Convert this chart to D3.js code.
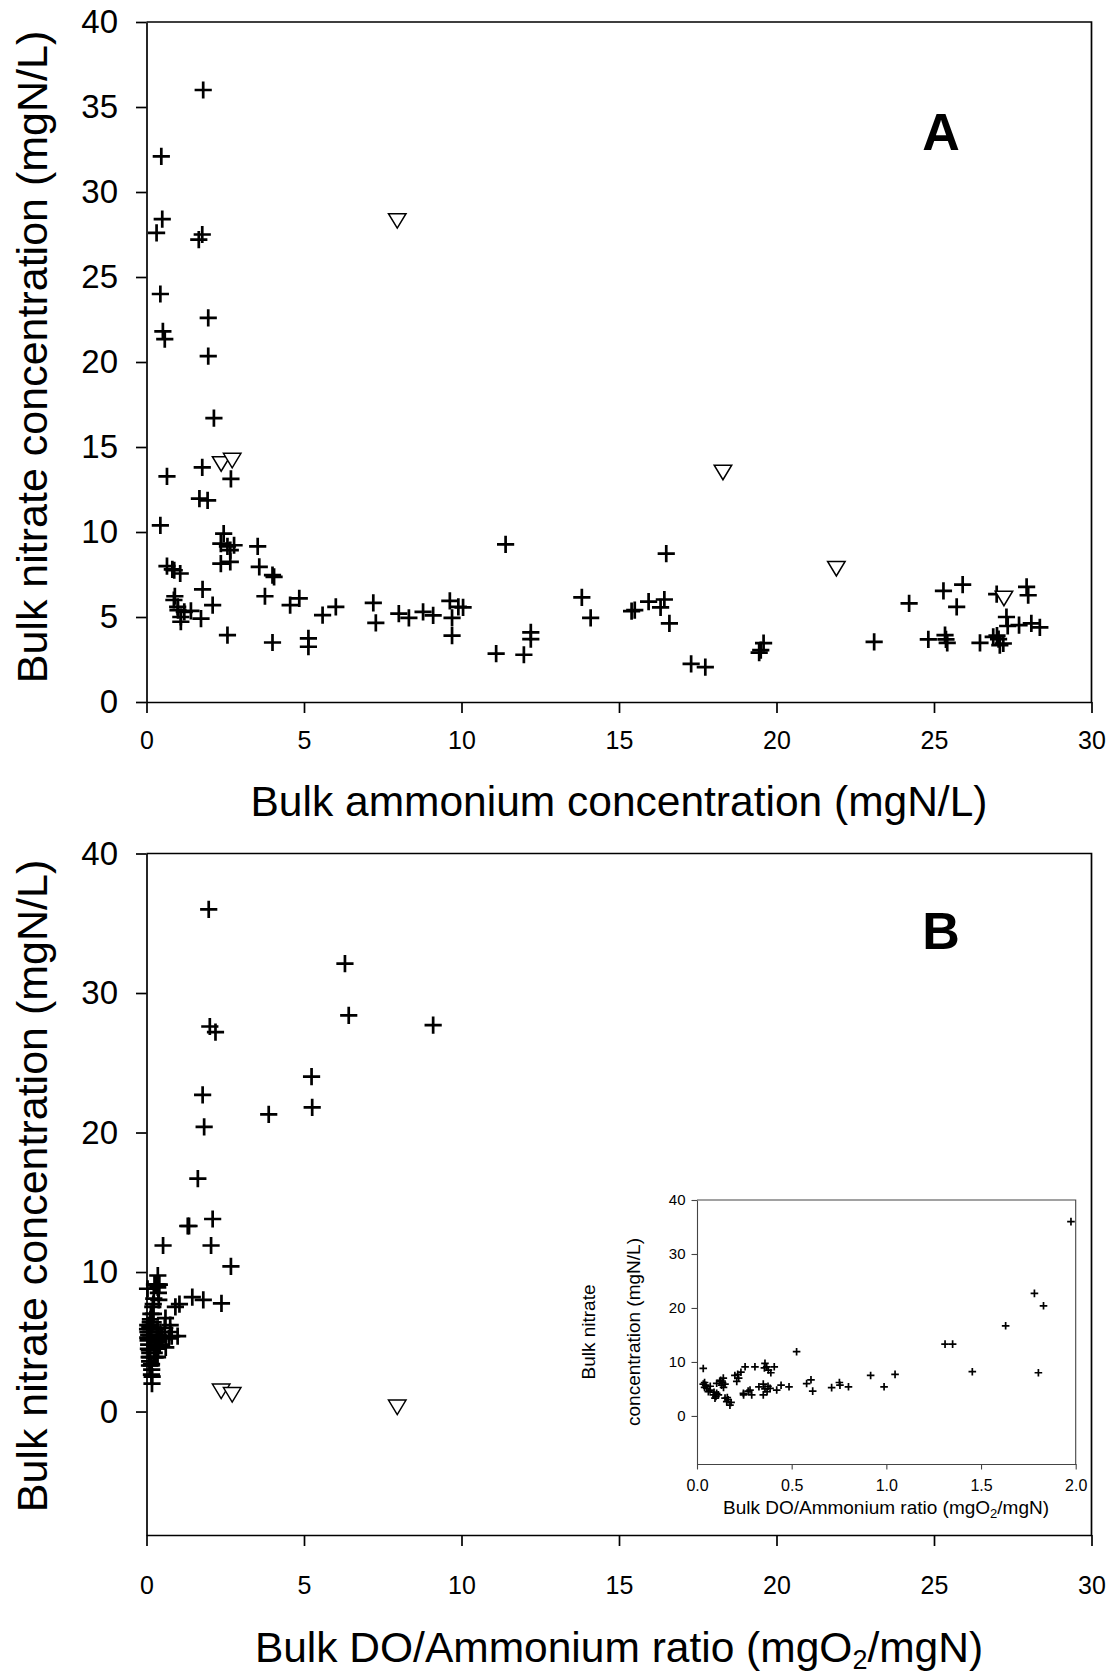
<!DOCTYPE html>
<html><head><meta charset="utf-8">
<script src="https://cdn.jsdelivr.net/npm/d3@7"></script>
<style>
body{margin:0;background:#fff}
svg{display:block}
text{font-family:Arial,"Liberation Sans",sans-serif;fill:#000}
</style>
</head><body>
<svg id="chart" width="1113" height="1678"></svg>
<script>
// ---------- DATA ----------
// Panel A: bulk ammonium (mgN/L) vs bulk nitrate (mgN/L), "+" markers
const ammoniumA = [1.8,0.47,0.5,0.32,1.66,1.77,0.44,0.52,0.58,1.96,1.96,2.14,1.77,2.68,0.65,1.68,1.94,0.44,2.45,2.36,2.57,2.78,2.66,3.53,2.36,2.66,3.58,4.0,4.05,3.76,0.65,0.88,1.07,0.82,0.9,1.78,2.1,0.99,1.41,1.0,1.09,1.09,1.73,2.57,4.0,4.56,4.85,5.59,6.01,5.14,5.14,7.2,7.28,8.01,8.33,8.78,9.1,9.63,9.9,9.7,9.7,10.05,11.4,11.1,11.98,12.2,12.2,16.5,13.82,14.1,15.4,15.5,15.94,16.44,16.32,16.6,17.29,17.74,19.5,19.45,19.59,23.1,24.21,25.3,25.91,25.72,24.82,25.35,25.38,25.42,26.46,26.88,27.0,27.05,27.09,27.2,26.99,27.3,27.34,27.7,28.09,28.36,27.94,27.99,1.2,0.87];
const nitrateA  = [36.0,32.1,28.4,27.6,27.2,27.5,24.0,21.8,21.35,22.6,20.35,16.7,13.8,13.13,13.27,11.96,11.86,10.39,9.9,9.32,9.16,9.22,8.93,9.16,8.14,8.24,7.95,7.46,7.36,6.22,7.99,7.75,7.56,7.8,6.22,6.62,5.7,5.6,5.36,5.4,5.0,4.72,4.91,3.93,3.5,5.7,6.09,5.11,5.6,3.74,3.25,5.83,4.66,5.2,4.95,5.3,5.1,5.95,5.6,4.95,3.9,5.57,9.27,2.84,2.78,4.1,3.7,8.73,6.16,4.95,5.35,5.4,5.9,6.03,5.57,4.62,2.24,2.05,3.05,2.9,3.46,3.54,5.8,6.54,6.91,5.6,3.68,3.93,3.68,3.48,3.48,3.83,3.9,3.7,3.35,3.44,6.34,5.0,4.47,4.52,4.62,4.39,6.77,6.28,5.3,6.0];
// Panel A: open down-triangles
const ammoniumTriA = [2.37,2.72,7.96,18.3,21.9,27.22];
const nitrateTriA  = [14.0,14.2,28.3,13.5,7.84,6.09];

// Panel B: bulk DO/ammonium ratio (mgO2/mgN) vs bulk nitrate (mgN/L), "+" markers
const ratioB   = [1.975,6.3,6.42,9.1,2.01,2.19,5.24,5.26,3.88,1.782,1.83,1.63,1.31,1.35,2.1,2.05,0.526,2.68,1.454,1.803,2.38,1.046,0.917,0.988,0.8,0.752,0.755,0.711,0.611,0.602,0.579,0.486,0.444,0.421,0.386,0.359,0.35,0.35,0.327,0.289,0.28,0.246,0.254,0.306,0.359,0.368,0.377,0.408,0.356,0.2,0.215,0.232,0.21,0.033,0.033,0.046,0.051,0.069,0.086,0.095,0.104,0.113,0.104,0.12,0.139,0.13,0.148,0.148,0.165,0.174,0.157,0.04,0.06,0.09,0.1,0.125,0.135,0.14,0.16,0.18,0.37,0.375,0.39,0.27,0.22,0.245,0.04,0.07];
const nitrateB = [36.0,32.1,28.4,27.7,27.6,27.2,24.0,21.8,21.3,22.7,20.4,16.7,13.3,13.3,13.8,11.9,11.9,10.4,8.2,8.0,7.75,7.7,7.5,5.4,5.4,6.2,5.7,5.25,4.6,6.7,6.0,5.4,5.7,4.8,5.1,5.0,3.9,5.9,5.4,3.9,4.8,3.9,9.1,9.1,9.75,9.1,8.5,9.1,8.9,7.5,7.7,8.1,6.4,8.8,5.9,5.7,5.1,4.8,3.9,3.3,4.2,3.9,6.05,6.4,7.0,5.7,5.9,3.3,3.0,2.0,2.65,6.2,4.5,4.4,3.6,6.6,6.2,5.3,3.4,2.5,4.5,5.5,8.0,4.6,7.0,4.2,5.3,5.5];
// Panel B: open down-triangles
const ratioTriB   = [2.37,2.72,7.96];
const nitrateTriB = [1.45,1.2,0.3];

// Tick values
const xTicksMain  = [0,5,10,15,20,25,30];
const yTicksA     = [0,5,10,15,20,25,30,35,40];
const yTicksB     = [0,10,20,30,40];
const xTicksInset = [0,0.5,1.0,1.5,2.0];
const yTicksInset = [0,10,20,30,40];

// ---------- DRAWING ----------
const svg = d3.select("#chart");
const cross = s => `M${-s},0H${s}M0,${-s}V${s}`;
const tri = (w,h) => `M${-w/2},${-h/2}H${w/2}L0,${h/2}Z`;

function styleAxis(g, lw, color, fs){
  g.select(".domain").attr("stroke", color).attr("stroke-width", lw);
  g.selectAll(".tick line").attr("stroke", color).attr("stroke-width", lw);
  g.selectAll(".tick text").attr("font-size", fs).attr("fill","#000")
   .style("font-family","Arial, 'Liberation Sans', sans-serif");
}

function mainPanel(o){
  const x = d3.scaleLinear().domain(o.xDomain).range([146.5,1091.5]);
  const y = d3.scaleLinear().domain(o.yDomain).range([o.bottom,o.top]);
  const g = svg.append("g");
  g.append("path").attr("d",`M${x.range()[0]},${o.top}H${x.range()[1]}V${o.bottom}`)
    .attr("fill","none").attr("stroke","#000").attr("stroke-width",1.7);
  const gx = g.append("g").attr("transform",`translate(0,${o.bottom})`)
    .call(d3.axisBottom(x).tickValues(xTicksMain).tickSize(11).tickSizeOuter(0).tickPadding(o.xPad).tickFormat(d3.format("d")));
  styleAxis(gx,1.7,"#000",25);
  const gy = g.append("g").attr("transform",`translate(${x.range()[0]},0)`)
    .call(d3.axisLeft(y).tickValues(o.yTicks).tickSize(10.5).tickSizeOuter(0).tickPadding(18).tickFormat(d3.format("d")));
  styleAxis(gy,1.7,"#000",33);
  const px = o.xs, py = o.ys;
  g.append("g").selectAll("path").data(d3.range(px.length)).join("path")
    .attr("transform",i=>`translate(${x(px[i])},${y(py[i])})`)
    .attr("d",cross(8.6)).attr("stroke","#000").attr("stroke-width",2.7).attr("fill","none");
  g.append("g").selectAll("path").data(d3.range(o.txs.length)).join("path")
    .attr("transform",i=>`translate(${x(o.txs[i])},${y(o.tys[i])})`)
    .attr("d",tri(17.5,14.5)).attr("stroke","#000").attr("stroke-width",1.5).attr("fill","#fff");
  const t = g.append("text").attr("x",619).attr("y",o.xTitleY).attr("text-anchor","middle").attr("font-size",42.5);
  o.xTitle(t);
  g.append("text").attr("transform",`translate(46.7,${o.yTitleC}) rotate(-90)`).attr("text-anchor","middle")
    .attr("font-size",43).text("Bulk nitrate concentration (mgN/L)");
  g.append("text").attr("x",941).attr("y",o.letterY).attr("text-anchor","middle")
    .attr("font-size",52).attr("font-weight","bold").text(o.letter);
  return {x,y};
}

mainPanel({
  xDomain:[0,30], yDomain:[0,40], top:22, bottom:702, yTicks:yTicksA, xPad:18,
  xs:ammoniumA, ys:nitrateA, txs:ammoniumTriA, tys:nitrateTriA,
  xTitleY:816, yTitleC:357, letter:"A", letterY:150,
  xTitle:t=>t.text("Bulk ammonium concentration (mgN/L)")
});

mainPanel({
  xDomain:[0,30], yDomain:[-8.85,40], top:853.5, bottom:1535, yTicks:yTicksB, xPad:30,
  xs:ratioB, ys:nitrateB, txs:ratioTriB, tys:nitrateTriB,
  xTitleY:1662, yTitleC:1186, letter:"B", letterY:949,
  xTitle:t=>{ t.append("tspan").text("Bulk DO/Ammonium ratio (mgO");
              t.append("tspan").attr("dy",7).attr("font-size",27).text("2");
              t.append("tspan").attr("dy",-7).text("/mgN)"); }
});

// ---------- INSET ----------
(function(){
  const L=697, R=1075.7, T=1200, B=1464;
  const x = d3.scaleLinear().domain([0,2]).range([L,R]);
  const y = d3.scaleLinear().domain([-8.9,40]).range([B,T]);
  const g = svg.append("g");
  const col = "#444";
  g.append("path").attr("d",`M${L},${T}H${R}V${B}`).attr("fill","none").attr("stroke",col).attr("stroke-width",1.1);
  const gx = g.append("g").attr("transform",`translate(0,${B})`)
    .call(d3.axisBottom(x).tickValues(xTicksInset).tickSize(5.5).tickSizeOuter(0).tickPadding(10).tickFormat(d3.format(".1f")));
  styleAxis(gx,1.1,col,16);
  const gy = g.append("g").attr("transform",`translate(${L},0)`)
    .call(d3.axisLeft(y).tickValues(yTicksInset).tickSize(5.5).tickSizeOuter(0).tickPadding(6).tickFormat(d3.format("d")));
  styleAxis(gy,1.1,col,15);
  const idx = d3.range(ratioB.length).filter(i=>ratioB[i]<=2.0);
  g.append("g").selectAll("path").data(idx).join("path")
    .attr("transform",i=>`translate(${x(ratioB[i])},${y(nitrateB[i])})`)
    .attr("d",cross(3.8)).attr("stroke","#000").attr("stroke-width",1.7).attr("fill","none");
  const t = g.append("text").attr("x",886).attr("y",1513.5).attr("text-anchor","middle").attr("font-size",19);
  t.append("tspan").text("Bulk DO/Ammonium ratio (mgO");
  t.append("tspan").attr("dy",4.5).attr("font-size",13).text("2");
  t.append("tspan").attr("dy",-4.5).text("/mgN)");
  g.append("text").attr("transform",`translate(595,1332) rotate(-90)`).attr("text-anchor","middle")
    .attr("font-size",19).text("Bulk nitrate");
  g.append("text").attr("transform",`translate(640,1332) rotate(-90)`).attr("text-anchor","middle")
    .attr("font-size",19).text("concentration (mgN/L)");
})();
</script>
</body></html>
